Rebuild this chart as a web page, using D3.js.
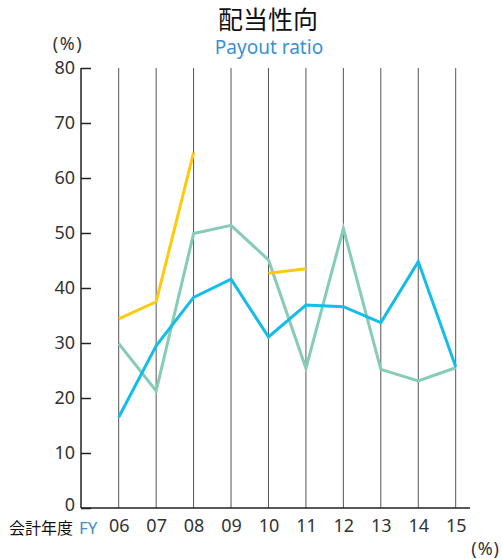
<!DOCTYPE html>
<html>
<head>
<meta charset="utf-8">
<script src="https://cdn.jsdelivr.net/npm/d3@7"></script>
<style>
	body { margin: 0; background: #fff; }
	svg text { font-family: "Noto Sans", "Noto Sans CJK JP", sans-serif; }
</style>
</head>
<body>
<div id="chart"></div>
<script>
	// 会計年度
	var years = ['06', '07', '08', '09', '10', '11', '12', '13', '14', '15'];
	var yTicks = [0, 10, 20, 30, 40, 50, 60, 70, 80];
	// null = 途切れ
	var seriesYellow = [34.4, 37.5, 64.6, null, 42.7, 43.5, null, null, null, null];
	var seriesGreen = [29.9, 21.3, 49.9, 51.4, 45.1, 25.4, 50.8, 25.2, 23.1, 25.5];
	var seriesBlue = [16.5, 29.5, 38.3, 41.6, 31.1, 36.9, 36.6, 33.7, 44.8, 25.7];

	(function() {
		var width = 502,
			height = 559,
			axisLeft = 81,
			axisRight = 470,
			plotTop = 68,
			plotBottom = 508;

		var svg = d3.select('#chart')
			.append('svg')
			.attr('width', width)
			.attr('height', height);

		var x = d3.scalePoint()
			.domain(years)
			.range([118.7, 455.7]);

		var y = d3.scaleLinear()
			.domain([0, 80])
			.range([plotBottom, plotTop]);

		// タイトル
		svg.append('text')
			.attr('x', 268).attr('y', 29)
			.attr('text-anchor', 'middle')
			.attr('font-size', 25)
			.attr('fill', '#111')
			.style('font-family', '"Noto Sans CJK JP", sans-serif')
			.text('配当性向');
		svg.append('text')
			.attr('x', 269).attr('y', 54)
			.attr('text-anchor', 'middle')
			.attr('font-size', 19)
			.attr('fill', '#3a90d2')
			.text('Payout ratio');

		svg.append('text')
			.attr('x', 68).attr('y', 50)
			.attr('text-anchor', 'middle')
			.attr('font-size', 18)
			.attr('letter-spacing', 1.5)
			.attr('fill', '#333')
			.text('(%)');

		// 縦線
		svg.append('g')
			.selectAll('line')
			.data(years)
			.enter()
			.append('line')
			.attr('x1', function(d) { return x(d); })
			.attr('x2', function(d) { return x(d); })
			.attr('y1', plotTop)
			.attr('y2', plotBottom)
			.attr('stroke', '#555')
			.attr('stroke-width', 1);

		// y軸
		var yAxis = d3.axisLeft(y)
			.tickValues(yTicks)
			.tickSize(-10)
			.tickPadding(6);
		var gy = svg.append('g')
			.attr('transform', 'translate(' + axisLeft + ',0)')
			.call(yAxis);
		gy.select('.domain').remove();
		gy.selectAll('.tick line').attr('stroke', '#222').attr('stroke-width', 1.5);
		gy.selectAll('.tick text')
			.attr('x', -6)
			.attr('y', function(d) { return d === 0 ? -3 : 0; })
			.attr('font-size', 18)
			.attr('fill', '#333')
			.style('font-family', '"Noto Sans", sans-serif');
		svg.append('line')
			.attr('x1', axisLeft).attr('x2', axisLeft)
			.attr('y1', plotTop).attr('y2', plotBottom)
			.attr('stroke', '#222').attr('stroke-width', 1.5);

		// x軸
		svg.append('line')
			.attr('x1', axisLeft).attr('x2', axisRight)
			.attr('y1', plotBottom).attr('y2', plotBottom)
			.attr('stroke', '#222').attr('stroke-width', 1.5);
		var xAxis = d3.axisBottom(x).tickSize(0).tickPadding(11);
		var gx = svg.append('g')
			.attr('transform', 'translate(0,' + plotBottom + ')')
			.call(xAxis);
		gx.select('.domain').remove();
		gx.selectAll('.tick text')
			.attr('font-size', 18)
			.attr('fill', '#333')
			.style('font-family', '"Noto Sans", sans-serif');

		svg.append('text')
			.attr('x', 9).attr('y', 534)
			.attr('font-size', 16)
			.attr('fill', '#111')
			.style('font-family', '"Noto Sans CJK JP", sans-serif')
			.text('会計年度');
		svg.append('text')
			.attr('x', 79).attr('y', 534)
			.attr('font-size', 17)
			.attr('fill', '#3a90d2')
			.text('FY');
		svg.append('text')
			.attr('x', 500).attr('y', 555)
			.attr('text-anchor', 'end')
			.attr('font-size', 18)
			.attr('letter-spacing', 1)
			.attr('fill', '#333')
			.text('(%)');

		// 折れ線
		var line = d3.line()
			.defined(function(d) { return d != null; })
			.x(function(d, i) { return x(years[i]); })
			.y(function(d) { return y(d); });

		[[seriesGreen, '#86cdb3'], [seriesBlue, '#12bdec'], [seriesYellow, '#ffc90e']].forEach(function(s) {
			svg.append('path')
				.datum(s[0])
				.attr('d', line)
				.attr('fill', 'none')
				.attr('stroke', s[1])
				.attr('stroke-width', 3);
		});
	})();
</script>
</body>
</html>
